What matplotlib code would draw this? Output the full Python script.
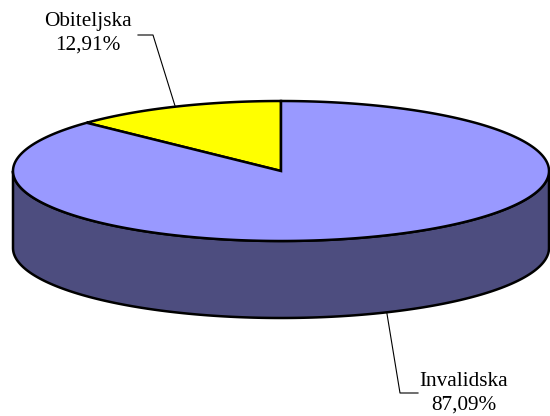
import numpy as np
import matplotlib.pyplot as plt
from matplotlib.patches import Polygon

# data
labels = ["Obiteljska", "Invalidska"]
shares = [12.91, 87.09]
top_colors = ["#FFFF00", "#9999FF"]
side_colors = ["#80801F", "#4D4D7F"]

# layout (pixel units, y down)
cx, cy = 281, 171
rx, ry = 268, 70
depth = 77

plt.rcParams['font.family'] = ['Liberation Serif', 'DejaVu Serif']

fig = plt.figure(figsize=(5.5, 4.16), dpi=100)
ax = fig.add_axes([0, 0, 1, 1])
ax.set_xlim(0, 550)
ax.set_ylim(416, 0)
ax.axis('off')


def pt(theta, dy=0.0):
    t = np.radians(theta)
    return cx + rx * np.cos(t), cy - ry * np.sin(t) + dy


# slice angles: start at 12 o'clock, go counterclockwise
angles = []
start = 90.0
for s in shares:
    end = start + 360.0 * s / 100.0
    angles.append((start, end))
    start = end

# side walls (only the front half, 180..360 deg, is visible)
for (a0, a1), col in zip(angles, side_colors):
    for k in range(-1, 2):
        lo = max(a0, 180 + 360 * k)
        hi = min(a1, 360 + 360 * k)
        if hi <= lo:
            continue
        th = np.linspace(lo, hi, 200)
        x, y = pt(th)
        xb, yb = pt(th[::-1], depth)
        poly = np.column_stack([np.r_[x, xb], np.r_[y, yb]])
        ax.add_patch(Polygon(poly, closed=True, facecolor=col,
                             edgecolor='black', lw=1.8, joinstyle='round'))

# top faces
for (a0, a1), col in zip(angles, top_colors):
    th = np.linspace(a0, a1, 400)
    x, y = pt(th)
    poly = np.column_stack([np.r_[cx, x], np.r_[cy, y]])
    ax.add_patch(Polygon(poly, closed=True, facecolor=col,
                         edgecolor='black', lw=1.8, joinstyle='miter'))

# labels with leader lines
text_pos = [(88, 33), (464, 393)]
elbows = [((153, 35), (138, 35)), ((400, 393), (418, 393))]
for i, ((a0, a1), lab, s) in enumerate(zip(angles, labels, shares)):
    mid = (a0 + a1) / 2
    mid_n = mid % 360
    dy = depth if 180 < mid_n < 360 else 0
    px, py = pt(mid, dy)
    (ex, ey), (hx, hy) = elbows[i]
    ax.plot([px, ex, hx], [py, ey, hy], color='black', lw=0.8)
    txt = "%s\n%s%%" % (lab, ("%.2f" % s).replace('.', ','))
    ax.text(text_pos[i][0], text_pos[i][1], txt, ha='center', va='center',
            fontsize=15.3, linespacing=1.32)

fig.savefig("out.png", dpi=100)
